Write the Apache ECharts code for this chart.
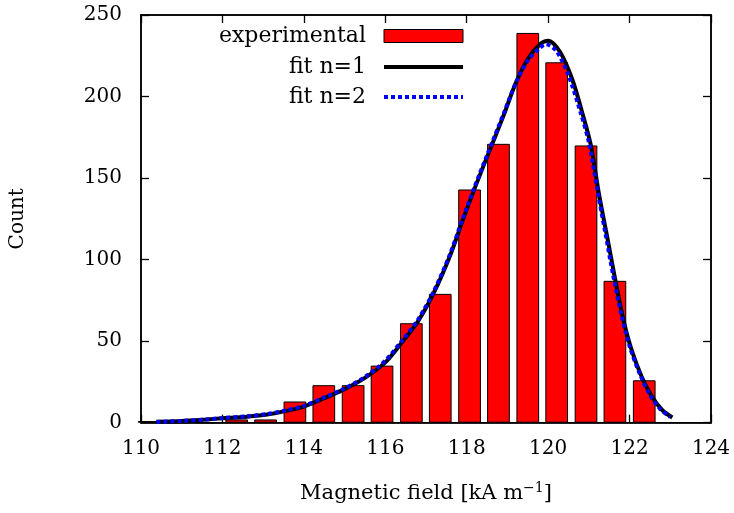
<!DOCTYPE html>
<html>
<head>
<meta charset="utf-8">
<script src="https://cdn.jsdelivr.net/npm/echarts@6/dist/echarts.min.js"></script>
<style>
  html, body { margin: 0; padding: 0; background: #fff; }
  #chart { width: 734px; height: 513px; }
</style>
</head>
<body>
<div id="chart"></div>
<script>
// Histogram bin centres (kA/m) and counts
const binCenters = [110.20, 110.92, 111.63, 112.35, 113.06, 113.78, 114.49, 115.21, 115.92,
                    116.64, 117.35, 118.07, 118.78, 119.50, 120.21, 120.93, 121.64, 122.36];
const binCounts  = [1, 0, 0, 2, 2, 13, 23, 23, 35, 61, 79, 143, 171, 239, 221, 170, 87, 26];

// Fitted curve n=1: field values and counts
const fit1X = [110.38, 111.0, 111.6, 112.0, 112.6, 113.1, 113.6, 114.0, 114.5, 115.0, 115.5, 116.0,
               116.4, 116.8, 117.2, 117.6, 117.9, 118.2, 118.5, 118.9, 119.2, 119.5, 119.8, 120.0,
               120.3, 120.6, 120.85, 121.05, 121.25, 121.45, 121.65, 121.85, 122.05, 122.3, 122.55,
               122.8, 123.05];
const fit1Y = [0.6, 1.1, 2.0, 2.7, 3.7, 5.0, 7.4, 9.9, 15.0, 20.6, 27.5, 37, 49, 62, 80, 103, 124,
               144, 163, 188, 208, 223, 232, 234.2, 227, 210, 189, 170, 140, 114, 87.5, 63, 44.6,
               28, 16, 7.8, 3.2];

// Fitted curve n=2: field values and counts
const fit2X = [110.38, 111.0, 111.6, 112.0, 112.6, 113.1, 113.6, 114.0, 114.5, 115.0, 115.5, 116.0,
               116.4, 116.8, 117.2, 117.6, 117.9, 118.2, 118.5, 118.9, 119.2, 119.5, 119.8, 119.95,
               120.2, 120.5, 120.8, 121.0, 121.2, 121.4, 121.6, 121.8, 122.0, 122.25, 122.5,
               122.75, 123.0];
const fit2Y = [0.5, 1.1, 2.0, 2.8, 3.9, 5.3, 7.8, 10.3, 15.5, 21.0, 28.0, 38, 50, 63, 81, 104, 125,
               145, 164, 189, 208, 222, 230, 232, 228, 213, 190, 172, 144, 117, 90, 66, 47, 30, 17,
               8.5, 3.5];

// Axis ticks
const xTicks = { min: 110, max: 124, step: 2 };
const yTicks = { min: 0, max: 250, step: 50 };

// Legend entries
const legendNames = ['experimental', 'fit n=1', 'fit n=2'];

const FONT = 'DejaVu Serif';
const RED = '#ff0000';
const BLUE = '#0000ff';
const zip = (xs, ys) => xs.map((x, i) => [x, ys[i]]);

const chart = echarts.init(document.getElementById('chart'), null, { renderer: 'canvas' });

const tickStyle = { show: true, inside: true, length: 8, lineStyle: { color: '#000', width: 1.3 } };
const labelStyle = { color: '#000', fontFamily: FONT, fontSize: 20 };
const lineWidth = 4;
const dashPattern = [4, 3];

// Key drawn in the upper-left corner of the plot: right-aligned text, sample to its right
const keyTextRight = 366, keySampleLeft = 384, keySampleWidth = 79;
const keyRows = [36, 67, 97];
const keyText = legendNames.map((name, i) => ({
  type: 'text', x: keyTextRight, y: keyRows[i], z: 10,
  style: { text: name, fill: '#000', font: '22px "' + FONT + '"', align: 'right', verticalAlign: 'middle' }
}));
const keySamples = [
  { type: 'rect', z: 10,
    shape: { x: keySampleLeft, y: keyRows[0] - 6.5, width: keySampleWidth, height: 13 },
    style: { fill: RED, stroke: '#000', lineWidth: 1 } },
  { type: 'line', z: 10,
    shape: { x1: keySampleLeft, y1: keyRows[1], x2: keySampleLeft + keySampleWidth, y2: keyRows[1] },
    style: { stroke: '#000', lineWidth: lineWidth } },
  { type: 'line', z: 10,
    shape: { x1: keySampleLeft, y1: keyRows[2], x2: keySampleLeft + keySampleWidth, y2: keyRows[2] },
    style: { stroke: BLUE, lineWidth: lineWidth, lineDash: dashPattern } }
];

chart.setOption({
  animation: false,
  backgroundColor: '#fff',
  grid: {
    left: 137.6, right: 23, top: 15, bottom: 90.3,
    show: true, borderColor: '#000', borderWidth: 1.5, backgroundColor: 'transparent'
  },
  graphic: keyText.concat(keySamples),
  xAxis: [
    {
      type: 'value', min: xTicks.min, max: xTicks.max, interval: xTicks.step,
      position: 'bottom',
      axisLine: { show: true, onZero: false, lineStyle: { color: '#000', width: 1.5 } },
      axisTick: tickStyle,
      splitLine: { show: false },
      axisLabel: Object.assign({ margin: 16 }, labelStyle),
      name: 'Magnetic field [kA m{sup|−1}]',
      nameLocation: 'middle',
      nameGap: 59,
      nameTextStyle: {
        color: '#000', fontFamily: FONT, fontSize: 21,
        rich: { sup: { fontFamily: FONT, fontSize: 14, verticalAlign: 'top', padding: [0, 0, 10, 0] } }
      }
    },
    {
      type: 'value', min: xTicks.min, max: xTicks.max, interval: xTicks.step,
      position: 'top',
      axisLine: { show: true, onZero: false, lineStyle: { color: '#000', width: 1.5 } },
      axisTick: tickStyle,
      splitLine: { show: false },
      axisLabel: { show: false }
    }
  ],
  yAxis: [
    {
      type: 'value', min: yTicks.min, max: yTicks.max, interval: yTicks.step,
      position: 'left',
      axisLine: { show: true, onZero: false, lineStyle: { color: '#000', width: 1.5 } },
      axisTick: tickStyle,
      splitLine: { show: false },
      axisLabel: Object.assign({ margin: 19 }, labelStyle),
      name: 'Count',
      nameLocation: 'middle',
      nameGap: 113,
      nameTextStyle: { color: '#000', fontFamily: FONT, fontSize: 20 }
    },
    {
      type: 'value', min: yTicks.min, max: yTicks.max, interval: yTicks.step,
      position: 'right',
      axisLine: { show: true, onZero: false, lineStyle: { color: '#000', width: 1.5 } },
      axisTick: tickStyle,
      splitLine: { show: false },
      axisLabel: { show: false }
    }
  ],
  series: [
    {
      name: legendNames[0],
      type: 'bar',
      data: zip(binCenters, binCounts),
      barWidth: 22.7,
      clip: true,
      itemStyle: { color: RED, borderColor: '#000', borderWidth: 1 },
      z: 1
    },
    {
      name: legendNames[1],
      type: 'line',
      data: zip(fit1X, fit1Y),
      smooth: 0.3,
      showSymbol: false,
      symbol: 'none',
      color: '#000',
      lineStyle: { color: '#000', width: lineWidth },
      z: 3
    },
    {
      name: legendNames[2],
      type: 'line',
      data: zip(fit2X, fit2Y),
      smooth: 0.3,
      showSymbol: false,
      symbol: 'none',
      color: BLUE,
      lineStyle: { color: BLUE, width: lineWidth, type: dashPattern },
      z: 4
    }
  ]
});
</script>
</body>
</html>
